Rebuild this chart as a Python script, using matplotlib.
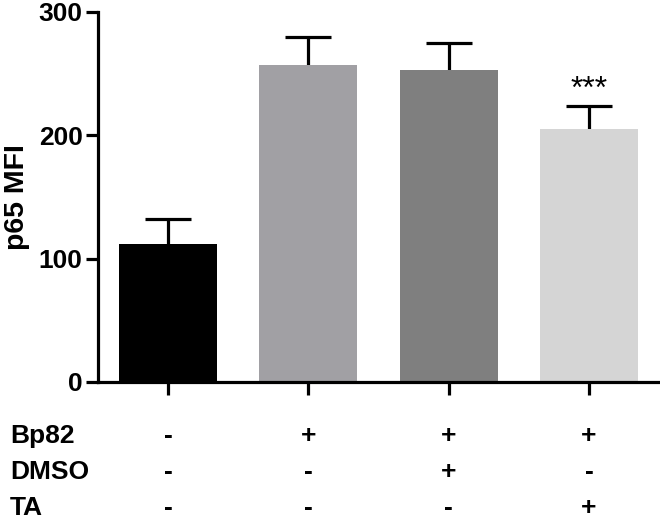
import matplotlib.pyplot as plt
from matplotlib.transforms import blended_transform_factory

# data
groups = ["ctrl", "Bp82", "Bp82+DMSO", "Bp82+TA"]
mfi = [112, 257, 253, 205]
sem = [20, 23, 22, 19]
colors = ["#000000", "#a1a0a4", "#7f7f7f", "#d5d5d5"]
stars = ["", "", "", "***"]
row_names = ["Bp82", "DMSO", "TA"]
row_signs = [["-", "+", "+", "+"],
             ["-", "-", "+", "-"],
             ["-", "-", "-", "+"]]

plt.rcParams["font.family"] = ["Liberation Sans", "DejaVu Sans"]

fig = plt.figure(figsize=(6.6, 5.19), dpi=100)
ax = fig.add_axes([0.1485, 0.264, 0.85, 0.713])

x = range(len(groups))
# symmetric bars drawn under the columns, so only the upper half shows
ax.errorbar(x, mfi, yerr=sem, fmt="none", ecolor="black",
            elinewidth=2.3, capsize=16.5, capthick=2.3, zorder=1)
ax.bar(x, mfi, width=0.7, color=colors, zorder=2)

for i, s in enumerate(stars):
    if s:
        ax.text(i, mfi[i] + sem[i] + 0.5, s, ha="center", va="bottom", fontsize=23)

ax.set_xlim(-0.5, 3.5)
ax.set_ylim(0, 300)
ax.set_yticks([0, 100, 200, 300])
ax.set_xticks(list(x))
ax.set_xticklabels([])
ax.set_ylabel("p65 MFI", fontsize=20.5, fontweight="bold", labelpad=6)
for lab in ax.get_yticklabels():
    lab.set_fontweight("bold")
ax.tick_params(axis="both", width=2.3, length=9, labelsize=19, pad=2)
for side in ["top", "right"]:
    ax.spines[side].set_visible(False)
for side in ["left", "bottom"]:
    ax.spines[side].set_linewidth(2.3)

# treatment table under the axis
tr = blended_transform_factory(ax.transData, fig.transFigure)
row_y = [1 - 436 / 519, 1 - 472 / 519, 1 - 508 / 519]
for name, signs, yy in zip(row_names, row_signs, row_y):
    fig.text(10 / 660, yy, name, ha="left", va="center", fontsize=19, fontweight="bold")
    for i, s in enumerate(signs):
        ax.text(i, yy, s, transform=tr, ha="center", va="center",
                fontsize=19, fontweight="bold")

fig.savefig("out.png", dpi=100)
